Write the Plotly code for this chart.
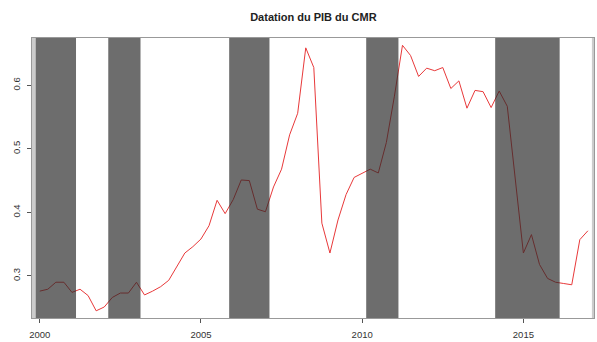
import numpy as np
import plotly.graph_objects as go

# Quarterly series, 2000Q1 .. 2017Q1
start_year = 2000
values = [
    0.276, 0.279, 0.290, 0.290,
    0.274, 0.279, 0.269, 0.245,
    0.251, 0.266, 0.273, 0.273,
    0.290, 0.270, 0.276, 0.283,
    0.293, 0.315, 0.336, 0.346,
    0.358, 0.379, 0.419, 0.398,
    0.420, 0.451, 0.450, 0.405,
    0.401, 0.440, 0.468, 0.522,
    0.556, 0.659, 0.628, 0.383,
    0.336, 0.388, 0.428, 0.455,
    0.461, 0.468, 0.462, 0.510,
    0.583, 0.663, 0.647, 0.614,
    0.627, 0.623, 0.628, 0.595,
    0.607, 0.564, 0.592, 0.590,
    0.565, 0.591, 0.567, 0.450,
    0.336, 0.365, 0.318, 0.296,
    0.290, 0.288, 0.286, 0.357,
    0.371,
]
times = start_year + np.arange(len(values)) / 4.0

# Regime periods (dark) and partial periods (light)
dark_starts = [1999.875, 2002.125, 2005.875, 2010.125, 2014.125]
dark_ends = [2001.125, 2003.125, 2007.125, 2011.125, 2016.125]
light_starts = [1999.70, 2017.125]
light_ends = [1999.875, 2017.30]

x_ticks = [2000, 2005, 2010, 2015]
y_ticks = [0.3, 0.4, 0.5, 0.6]
title_text = "Datation du PIB du CMR"

fig = go.Figure()
fig.add_trace(go.Scatter(x=times, y=values, mode="lines",
                         line=dict(color="#e8393a", width=1),
                         hoverinfo="x+y", showlegend=False))

shapes = []
for a, b in zip(dark_starts, dark_ends):
    shapes.append(dict(type="rect", xref="x", yref="paper", x0=a, x1=b, y0=0, y1=1,
                       fillcolor="rgba(40,40,40,0.68)", line=dict(width=0), layer="above"))
for a, b in zip(light_starts, light_ends):
    shapes.append(dict(type="rect", xref="x", yref="paper", x0=a, x1=b, y0=0, y1=1,
                       fillcolor="rgba(0,0,0,0.2)", line=dict(width=0), layer="above"))

fig.update_layout(
    width=597, height=342,
    margin=dict(l=32, r=2, t=38, b=21),
    paper_bgcolor="white", plot_bgcolor="white",
    font=dict(family="Liberation Sans, Arial, sans-serif", color="#333333"),
    title=dict(text="<b>" + title_text + "</b>", x=0.525, xanchor="center",
               y=1 - 17 / 342, yanchor="middle", yref="container",
               font=dict(size=11, color="#222222")),
    shapes=shapes,
    xaxis=dict(range=[1999.76, 2017.19], tickvals=x_ticks, ticktext=[str(t) for t in x_ticks],
               ticks="outside", ticklen=4, tickcolor="#555555", showgrid=False, zeroline=False,
               showline=True, mirror=True, linecolor="#999999", linewidth=1,
               tickfont=dict(size=9.5, color="#333333"), ticklabelstandoff=4),
    yaxis=dict(range=[0.2337, 0.6745], tickvals=y_ticks, ticktext=[str(t) for t in y_ticks],
               ticks="outside", ticklen=4, tickcolor="#555555", showgrid=False, zeroline=False,
               showline=True, mirror=True, linecolor="#999999", linewidth=1,
               tickangle=-90, tickfont=dict(size=9.5, color="#333333"), ticklabelstandoff=3),
)

fig.write_html("out.html")
